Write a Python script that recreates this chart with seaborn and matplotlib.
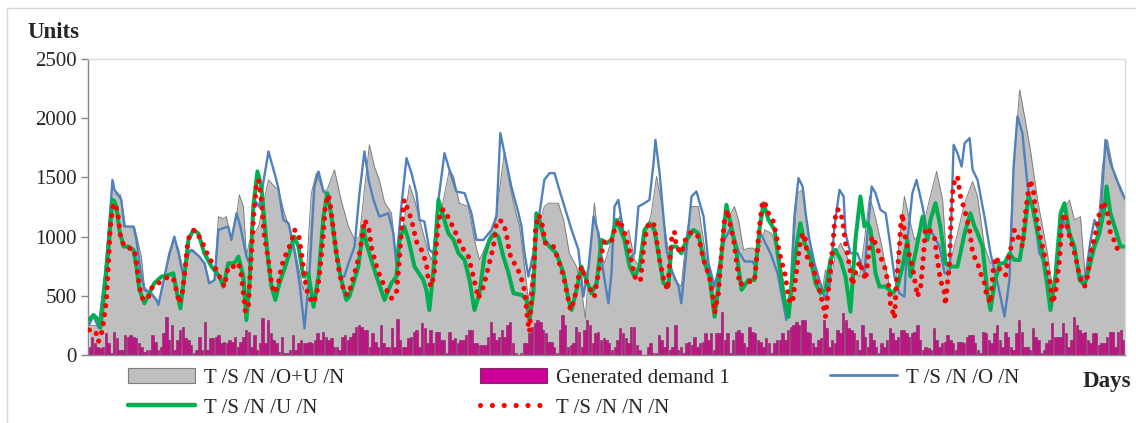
import numpy as np
import matplotlib
matplotlib.use("Agg")
import matplotlib.pyplot as plt
from matplotlib.patches import Patch, Rectangle
from matplotlib.lines import Line2D
import seaborn as sns

# ---------------- data ----------------
demand = [70,155,99,70,56,70,183,99,14,197,
          141,42,42,169,155,169,155,141,99,70,
          28,42,42,169,113,42,70,183,324,127,
          254,42,127,211,240,141,127,85,14,42,
          155,42,282,42,141,141,149,169,99,113,
          99,127,113,155,70,113,155,211,197,70,
          169,42,99,310,99,296,183,127,99,28,
          155,14,14,42,169,42,99,127,99,99,
          113,99,127,183,127,197,155,127,141,70,
          70,42,155,169,127,155,183,240,254,240,
          211,211,70,183,113,70,254,99,70,70,
          225,
          70,301,127,70,70,141,155,197,211,70,
          268,225,99,211,99,197,197,127,127,14,
          197,127,141,99,127,127,169,211,211,99,
          99,85,85,85,155,282,183,127,155,211,
          155,254,282,99,14,0,14,99,99,183,
          240,268,296,282,211,183,113,113,70,14,
          211,338,254,70,85,99,240,197,70,211,
          296,254,99,183,197,127,141,127,99,42,
          70,127,225,183,141,99,240,240,85,42,
          0,0,70,99,14,14,169,127,70,240,
          42,70,254,42,70,14,99,113,85,155,
          70,99,113,183,127,183,42,183,183,366,
          127,183,14,127,197,211,183,99,70,240,
          197,183,127,113,70,141,99,
          14,99,127,127,183,127,211,240,254,282,
          254,296,296,197,183,99,70,127,141,296,
          225,70,127,99,211,183,352,296,225,211,
          183,127,42,254,155,70,183,127,70,14,
          99,70,127,225,183,127,155,211,211,183,
          155,183,197,254,127,42,70,56,42,225,
          127,70,99,113,169,127,99,42,113,113,
          99,155,169,169,99,42,14,197,183,127,
          99,183,254,127,70,197,155,70,42,183,
          296,197,70,70,42,225,155,127,14,42,
          99,127,268,155,155,155,268,183,70,127,
          324,254,211,183,197,127,99,183,183,85,
          99,99,155,197,197,70,197,211,127]

ou_pts = [(0,250),(3.3,250),(5.5,700),(8.4,1465),(9.8,1353),(11.3,1353),(12.4,1198),(13.1,1085),
          (16.4,1085),(18.9,830),(20.0,578),(25.1,437),(27.3,662),(30.9,972),(32.4,900),(34.5,662),
          (36.4,859),(37.8,888),(40.7,803),(42.2,775),(43.3,606),(45.5,634),(46.9,1169),(48.7,1150),
          (49.8,1169),(51.6,972),(53.5,1169),(54.5,1353),(56.0,1254),(57.1,831),(58.2,960),(60.0,1028),
          (61.5,1085),(63.6,1310),(65.1,1479),(67.3,1423),(68.7,1400),(70.9,1197),(73.5,1028),(76.0,747),
          (77.8,550),(78.9,700),(80.7,1367),(82.5,1536),(85.1,1380),(86.5,1400),(89.1,1564),(91.6,1300),
          (94.2,1085),(96.4,972),(98.2,1000),(100.0,1400),(101.8,1775),(103.6,1592),(105.4,1479),
          (107.3,1290),(109.8,1200),(111.6,803),(113.4,972),(116.4,1437),(118.2,1310),(120.7,1085),
          (123.3,859),(124.4,803),(126.2,1028),(128.7,1310),(130.9,1564),(132.4,1508),(134.5,1282),
          (137.8,1254),(140.0,972),(141.8,803),(145.1,972),(148.0,1197),(150.9,1719),(152.7,1451),
          (154.5,1254),(156.4,1085),(158.2,747),(159.6,465),(161.4,747),(163.3,1085),(165.4,1254),
          (166.9,1282),(170.5,1282),(172.4,1141),(174.5,859),(177.1,747),(178.9,550),(180.3,310),
          (181.8,803),(183.6,1282),(185.4,888),(187.3,775),(189.8,972),(192.7,1169),(194.5,972),
          (196.0,1057),(198.2,803),(200.0,747),(201.8,972),(204.3,1197),(206.2,1508),(208.0,1282),
          (210.5,859),(212.7,634),(215.2,578),(217.1,1028),(218.9,1254),(221.4,1254),(224.3,803),
          (226.9,578),(228.7,662),(230.9,1085),(232.7,1169),(234.5,1254),(236.0,1141),(237.8,888),
          (239.6,902),(241.4,902),(243.3,859),(245.5,1057),(248.0,1028),(251.2,803),(253.8,324),
          (255.6,747),(257.4,1367),(259.3,1395),(261.1,1028),(262.9,859),(264.7,634),(266.5,550),
          (267.6,719),(269.4,578),(271.2,859),(273.1,944),(274.9,859),(277.4,719),(280.0,662),
          (281.8,972),(283.6,1339),(285.4,1197),(287.6,972),(290.9,578),(292.7,465),(293.8,831),
          (296.3,1339),(298.2,1141),(300.0,972),(302.9,1057),(305.4,1310),(308.0,1550),(310.2,1310),
          (312.0,662),(313.8,859),(315.6,1028),(318.2,1282),(321.1,1465),(322.9,1339),(325.4,916),
          (327.6,775),(330.2,775),(332.7,775),(334.5,859),(336.0,1592),(338.2,2240),(340.0,2015),
          (342.1,1733),(344.7,1310),(346.5,1085),(348.3,859),(350.2,550),(352.0,803),(353.8,1197),
          (356.3,1310),(358.1,1141),(360.3,1169),(362.1,634),(364.0,888),(366.5,1028),(368.3,1592),
          (370.1,1817),(372.7,1508),(374.9,1423),(376.7,1310)]

o_pts = [(0,260),(1.5,330),(3.3,230),(5.5,600),(6.9,1000),(8.4,1479),(9.1,1395),(10.5,1353),(11.6,1310),
         (12.7,1085),(16.0,1085),(17.1,972),(18.9,662),(20.0,550),(22.5,521),(24.4,465),(25.1,423),
         (27.3,662),(29.1,859),(30.9,1000),(32.4,859),(34.2,662),(36.0,859),(37.1,888),(40.0,831),
         (41.8,775),(43.6,606),(45.5,634),(46.9,1057),(50.5,1085),(51.6,972),(53.5,1197),(54.9,1085),
         (57.1,831),(58.2,775),(60.0,1310),(61.8,1254),(65.1,1719),(67.3,1536),(68.7,1409),(70.5,1141),
         (72.4,1113),(74.5,888),(76.4,606),(78.2,225),(80.0,690),(81.8,1423),(83.3,1550),(85.1,1381),
         (86.5,1353),(88.0,1197),(89.8,859),(91.6,662),(92.7,662),(94.2,775),(96.4,916),(98.2,1367),
         (100.0,1719),(101.5,1479),(103.3,1310),(105.4,1169),(108.7,1197),(110.5,1028),(111.6,775),
         (113.4,1254),(115.3,1663),(117.1,1536),(118.9,1367),(120.0,1141),(121.8,1127),(123.6,888),
         (125.1,859),(126.9,1310),(129.1,1705),(130.9,1564),(133.4,1381),(136.4,1367),(138.9,1197),
         (140.7,972),(143.3,972),(146.2,1057),(148.0,1169),(149.4,1874),(150.9,1705),(153.4,1423),
         (156.0,1197),(157.1,1085),(158.2,859),(159.6,662),(161.4,859),(163.3,1141),(165.4,1479),
         (167.3,1536),(169.1,1536),(170.5,1423),(172.7,1254),(175.3,1057),(177.8,888),(179.6,493),
         (181.5,747),(183.3,1169),(185.1,1028),(186.9,690),(188.7,437),(189.8,690),(190.9,1254),
         (192.3,1310),(194.2,1028),(196.0,803),(198.2,859),(199.6,1254),(201.8,1282),(203.6,1310),
         (205.1,1620),(205.8,1817),(207.3,1536),(209.8,888),(211.6,719),(214.2,578),(215.2,437),
         (217.1,888),(218.9,1339),(220.7,1381),(223.3,1169),(225.1,775),(227.3,578),(229.1,775),
         (230.9,972),(233.4,1085),(236.0,874),(238.2,790),(241.1,789),(242.2,747),(244.0,1028),
         (245.8,944),(247.6,859),(250.2,690),(252.0,465),(253.4,296),(254.9,550),(256.3,1169),
         (257.8,1494),(259.3,1423),(260.4,1197),(261.8,972),(263.6,775),(265.8,606),(267.6,465),
         (269.1,606),(270.9,1085),(272.7,1395),(274.2,1339),(274.9,1028),(276.7,859),(279.2,859),
         (281.8,690),(282.9,1028),(284.4,1423),(285.8,1367),(287.6,1226),(289.5,1197),(290.9,972),
         (292.7,662),(294.5,521),(296.3,493),(297.4,972),(299.2,1367),(300.7,1479),(302.9,1254),
         (304.7,1028),(306.5,1028),(309.1,916),(310.9,690),(312.7,690),(314.2,1775),(315.6,1705),
         (317.1,1592),(318.2,1789),(320.0,1832),(321.1,1564),(322.9,1479),(325.4,1169),(327.6,859),
         (330.2,606),(332.7,324),(334.5,634),(336.0,1592),(337.4,2015),(339.2,1874),(341.1,1423),
         (343.6,1169),(345.4,859),(347.2,775),(349.1,578),(350.2,521),(352.0,775),(353.8,1141),
         (356.3,1028),(358.1,888),(360.3,662),(362.1,662),(364.0,972),(365.4,1141),(367.2,1028),
         (368.3,1423),(369.4,1817),(371.2,1620),(373.1,1508),(374.9,1395),(376.7,1310)]

u_pts = [(0,300),(1.5,338),(3.3,296),(4.0,230),(5.1,465),(6.9,888),(8.4,1310),(9.1,1300),(9.8,1254),
         (10.9,1057),(12.4,916),(14.2,916),(16.0,888),(17.1,747),(18.2,550),(20.0,437),(21.8,521),
         (23.6,606),(26.2,662),(28.7,676),(30.5,690),(31.6,550),(33.1,394),(34.5,662),(36.0,972),
         (37.8,1057),(39.6,1028),(41.8,859),(44.4,747),(47.3,662),(48.7,578),(50.5,775),(52.7,775),
         (54.2,831),(56.0,662),(57.1,296),(58.2,606),(59.6,1254),(61.1,1550),(62.5,1423),(63.6,1141),
         (65.1,775),(66.2,578),(67.6,465),(69.1,606),(71.6,775),(74.5,1000),(76.0,916),(77.8,662),
         (79.6,690),(81.5,408),(83.3,662),(85.1,1169),(86.5,1367),(88.0,1169),(89.8,859),(91.6,634),
         (93.4,465),(94.5,493),(96.0,606),(97.8,747),(99.6,1085),(100.7,944),(102.5,803),(104.4,662),
         (107.3,465),(109.8,606),(111.6,662),(112.7,972),(114.5,1085),(116.0,972),(118.2,747),
         (121.4,634),(122.5,550),(123.6,380),(125.1,719),(126.2,1085),(126.9,1310),(128.7,1169),
         (130.5,1028),(132.4,972),(134.2,859),(136.4,803),(138.2,634),(140.0,380),(141.8,521),
         (143.6,831),(145.4,972),(147.3,1028),(148.7,1000),(150.5,831),(152.4,690),(154.2,521),
         (157.1,507),(158.9,465),(160.0,296),(161.4,521),(162.5,1197),(163.6,1141),(165.4,972),
         (167.3,916),(169.8,859),(172.4,690),(174.2,465),(175.3,380),(177.1,550),(178.9,747),
         (180.7,634),(182.5,521),(184.4,606),(186.2,972),(188.0,944),(189.8,972),(191.6,1141),
         (192.7,1085),(194.5,972),(196.4,747),(198.2,662),(200.0,747),(201.8,1057),(203.6,1113),
         (205.4,1057),(206.9,859),(208.7,606),(210.5,578),(211.6,916),(213.4,916),(215.2,859),
         (217.1,972),(219.6,1057),(221.4,1028),(223.3,803),(225.4,662),(227.3,324),(228.7,578),
         (230.5,1028),(231.6,1268),(233.4,1085),(235.3,859),(237.1,550),(239.6,634),(241.8,634),
         (243.6,1057),(245.1,1282),(246.9,1141),(249.1,1057),(250.2,859),(252.7,465),(254.2,324),
         (255.6,662),(257.4,972),(258.5,1113),(260.0,944),(261.8,859),(264.0,606),(265.8,521),
         (267.6,550),(269.4,803),(271.2,888),(273.1,803),(274.9,662),(276.7,366),(278.5,972),
         (280.3,1339),(281.8,1085),(282.9,1113),(284.0,1057),(285.8,690),(287.2,578),(289.5,578),
         (292.0,521),(293.8,578),(295.6,747),(297.4,972),(298.5,662),(300.3,859),(302.9,1169),
         (304.7,972),(305.8,1141),(307.6,1282),(309.4,1085),(311.2,775),(313.1,747),(315.6,747),
         (318.2,1028),(320.3,1197),(321.8,1085),(322.9,1028),(324.7,916),(326.5,521),(327.6,380),
         (329.1,606),(330.9,775),(332.7,775),(334.5,859),(336.3,803),(338.2,803),(340.0,1057),
         (341.4,1339),(342.9,1254),(344.7,1028),(346.5,859),(348.3,578),(349.4,380),(351.2,662),
         (353.1,1197),(354.5,1282),(356.3,1028),(358.1,916),(360.0,634),(361.8,592),(363.6,747),
         (365.4,916),(367.2,1028),(369.1,1254),(369.8,1423),(371.2,1197),(373.1,1057),(374.9,916),
         (376.3,916)]

n_pts = [(0,211),(2.2,206),(3.3,113),(4.4,183),(5.1,268),(6.2,465),(6.9,747),(7.6,1085),(8.7,1282),
         (9.8,1240),(10.5,1169),(11.3,1000),(12.7,916),(16.4,888),(17.1,775),(18.2,578),(19.3,479),
         (21.1,465),(22.9,578),(25.1,606),(28.7,662),(30.5,648),(31.6,550),(32.7,437),(33.8,521),
         (34.5,662),(35.6,916),(36.4,1014),(38.2,1057),(40.7,972),(43.3,831),(45.5,747),(47.3,662),
         (49.1,578),(50.5,747),(52.7,747),(54.2,775),(55.3,662),(56.0,521),(56.7,366),(57.8,408),
         (58.5,690),(59.6,1141),(60.7,1437),(61.5,1479),(62.5,1310),(63.6,1000),(65.1,803),(66.2,606),
         (67.3,521),(68.7,606),(69.8,747),(71.6,859),(73.5,958),(74.5,1057),(76.0,1028),(77.1,859),
         (78.2,662),(79.3,521),(81.1,437),(82.5,493),(83.6,662),(85.1,1028),(85.8,1268),(86.9,1353),
         (87.6,1268),(88.7,1057),(89.8,859),(90.9,690),(92.7,521),(94.2,507),(95.3,606),(97.1,747),
         (98.2,859),(99.6,1057),(100.0,1141),(101.5,1085),(102.5,916),(104.4,747),(106.2,634),
         (108.0,550),(109.8,479),(111.6,521),(112.4,719),(113.4,1028),(114.2,1254),(114.5,1310),
         (115.6,1240),(117.1,1141),(118.9,958),(120.7,888),(122.5,775),(123.3,620),(124.4,578),
         (125.4,690),(126.2,944),(126.9,1127),(128.0,1226),(129.1,1226),(130.9,1141),(132.7,1057),
         (135.3,916),(137.8,831),(139.6,662),(141.4,479),(143.3,578),(145.1,747),(146.9,916),
         (148.0,1113),(149.1,1141),(150.5,1113),(151.6,1028),(152.7,859),(154.5,775),(156.4,690),
         (157.8,592),(158.5,493),(159.3,296),(160.0,197),(160.7,465),(161.8,803),(162.2,1057),
         (163.3,1183),(164.3,1141),(165.8,944),(168.7,916),(170.5,803),(172.4,662),(173.4,550),
         (174.9,380),(176.3,465),(177.8,662),(178.9,747),(180.7,620),(182.2,550),(183.6,493),
         (185.1,690),(186.2,859),(187.3,958),(189.8,958),(190.9,1057),(192.7,1141),(194.2,1057),
         (196.0,916),(198.2,662),(200.3,620),(201.8,972),(203.3,1113),(205.1,1113),(206.2,972),
         (207.3,803),(208.7,648),(210.2,550),(211.6,972),(212.7,1042),(213.4,916),(215.2,859),
         (216.7,972),(218.9,1042),(221.4,1000),(223.3,803),(225.4,662),(226.9,465),(227.3,352),
         (228.7,521),(229.8,859),(230.9,1141),(232.0,1226),(232.7,1127),(234.2,972),(236.0,662),
         (236.4,592),(238.2,620),(240.0,620),(241.8,620),(242.5,803),(243.6,1085),(244.7,1296),
         (245.4,1296),(246.9,1197),(248.7,1127),(251.2,831),(253.1,662),(254.2,465),(255.6,437),
         (256.7,634),(258.2,916),(259.3,1028),(260.4,972),(261.1,803),(262.9,747),(264.0,662),
         (265.4,550),(267.3,366),(267.6,324),(269.1,634),(270.2,916),(270.9,1113),(271.6,1226),
         (272.7,1226),(273.8,1141),(274.9,944),(276.4,747),(277.4,592),(278.5,690),(280.0,789),
         (281.1,705),(282.2,634),(283.6,916),(284.7,1000),(286.2,916),(287.6,831),(289.1,747),
         (290.9,550),(291.2,437),(292.7,310),(293.4,606),(294.5,916),(294.9,1085),(295.6,1197),
         (296.3,1028),(298.2,831),(299.2,747),(301.1,493),(302.2,578),(302.9,747),(304.0,1071),
         (305.4,1057),(307.2,1000),(308.3,803),(309.4,634),(310.9,521),(311.2,423),(312.7,775),
         (313.1,1057),(313.8,1367),(314.5,1465),(315.6,1508),(316.7,1339),(318.2,1226),(320.0,1057),
         (321.1,859),(322.9,775),(324.0,690),(325.4,606),(326.2,507),(327.6,437),(328.7,747),
         (329.8,831),(331.2,705),(333.1,676),(333.8,775),(334.9,888),(336.3,1057),(338.2,972),
         (339.2,916),(340.3,1197),(341.4,1395),(342.1,1479),(343.3,1367),(344.0,1197),(345.4,1028),
         (346.5,916),(347.6,803),(349.1,634),(350.2,437),(351.2,521),(352.7,803),(353.5,1113),
         (354.5,1197),(356.0,1028),(357.4,916),(358.5,831),(360.0,662),(361.8,578),(362.9,662),
         (364.0,859),(365.8,1028),(367.2,1197),(368.7,1296),(370.1,1197),(371.2,1028),(373.1,944),
         (374.5,831)]

y_ticks = [0, 500, 1000, 1500, 2000, 2500]
legend_labels = ["T /S /N /O+U /N", "Generated demand 1", "T /S /N /O /N",
                 "T /S /N /U /N", "T /S /N /N /N"]

# ---------------- style ----------------
sns.set_style("white")
plt.rcParams["font.family"] = ["Liberation Serif", "DejaVu Serif"]

C_AREA, C_AREA_EDGE = "#BFBFBF", "#7F7F7F"
C_BAR, C_BAR_EDGE = "#C8108A", "#7E2A5E"
C_BLUE, C_GREEN, C_RED = "#4F81BD", "#00B050", "#FF0000"

W, H = 1136, 423
fig = plt.figure(figsize=(W / 100, H / 100), dpi=100)
ax = fig.add_axes([88 / W, 1 - 355 / H, (1125 - 88) / W, (355 - 59) / H])

N = len(demand)
days = np.arange(N)

ou_x, ou_y = zip(*ou_pts)
o_x, o_y = zip(*o_pts)
u_x, u_y = zip(*u_pts)
n_x, n_y = zip(*n_pts)

ax.fill_between(ou_x, ou_y, 0, color=C_AREA, lw=0, zorder=1)
ax.plot(ou_x, ou_y, color=C_AREA_EDGE, lw=0.7, zorder=1.5)
ax.bar(days, demand, width=0.9, color=C_BAR, edgecolor=C_BAR_EDGE, linewidth=0.4, zorder=2)

sns.lineplot(x=list(o_x), y=list(o_y), ax=ax, color=C_BLUE, lw=1.7, sort=False,
             estimator=None, zorder=3)
sns.lineplot(x=list(u_x), y=list(u_y), ax=ax, color=C_GREEN, lw=2.9, sort=False,
             estimator=None, zorder=4)
sns.lineplot(x=list(n_x), y=list(n_y), ax=ax, color=C_RED, lw=3.7, sort=False,
             estimator=None, zorder=5, linestyle=(0, (0.01, 1.75)),
             dash_capstyle="round")

ax.set_xlim(-0.5, N - 0.5)
ax.set_ylim(0, 2500)
ax.set_yticks(y_ticks)
ax.set_yticklabels([str(t) for t in y_ticks], fontsize=15)
ax.set_xticks([])
ax.set_xlabel("")
ax.set_ylabel("")
for s in ["left", "bottom"]:
    ax.spines[s].set_color("#868686")
    ax.spines[s].set_linewidth(1.0)
for s in ["top", "right"]:
    ax.spines[s].set_color("#D9D9D9")
    ax.spines[s].set_linewidth(1.0)
ax.tick_params(axis="y", which="both", left=True, length=5, width=1, color="#868686",
               pad=3, labelsize=15)
ax.grid(False)
if ax.get_legend() is not None:
    ax.get_legend().remove()

# outer chart border
fig.add_artist(Rectangle((7 / W, -0.1), 1.2, 1 - 8 / H + 0.1, transform=fig.transFigure,
                         fill=False, edgecolor="#D9D9D9", lw=1.0))

fig.text(27 / W, 1 - 33 / H, "Units", fontsize=16.5, fontweight="bold", va="center", ha="left")
fig.text(1083 / W, 1 - 381 / H, "Days", fontsize=16.5, fontweight="bold", va="center", ha="left")

h_area = Patch(facecolor=C_AREA, edgecolor=C_AREA_EDGE, lw=0.8)
h_bar = Patch(facecolor="#CC0099", edgecolor=C_BAR_EDGE, lw=0.8)
h_blue = Line2D([], [], color=C_BLUE, lw=2.0)
h_green = Line2D([], [], color=C_GREEN, lw=3.2)
h_red = Line2D([], [], color=C_RED, lw=3.7, linestyle=(0, (0.01, 2.3)), dash_capstyle="round")

common = dict(frameon=False, fontsize=15, handlelength=3.2, handletextpad=0.45,
              borderpad=0, borderaxespad=0, labelspacing=0.5, loc="upper left",
              bbox_transform=fig.transFigure)
fig.legend(handles=[h_area, h_green], labels=[legend_labels[0], legend_labels[3]],
           bbox_to_anchor=(128 / W, 1 - 368 / H), **common)
fig.legend(handles=[h_bar, h_red], labels=[legend_labels[1], legend_labels[4]],
           bbox_to_anchor=(480 / W, 1 - 368 / H), **common)
fig.legend(handles=[h_blue], labels=[legend_labels[2]],
           bbox_to_anchor=(830 / W, 1 - 368 / H), **common)

fig.savefig("out.png", dpi=100)
